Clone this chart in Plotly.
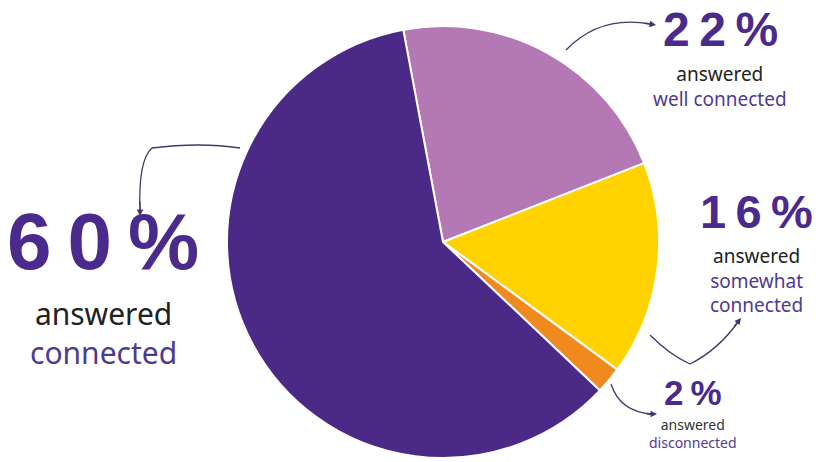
import plotly.graph_objects as go

# Survey responses: how connected respondents feel
categories = ["well connected", "somewhat connected", "disconnected", "connected"]
shares = [22, 16, 2, 60]
colors = ["#B478B4", "#FFD200", "#F08A1E", "#4A2A86"]

W, H = 830, 462
PURPLE = "#4A2A8C"
SUB_PURPLE = "#4F3A92"

fig = go.Figure()

fig.add_trace(go.Pie(
    labels=categories,
    values=shares,
    sort=False,
    direction="clockwise",
    rotation=-10.6,
    marker=dict(colors=colors, line=dict(color="white", width=2)),
    textinfo="none",
    hoverinfo="label+percent",
    showlegend=False,
    domain=dict(x=[227 / W, 659 / W], y=[4 / H, 436 / H]),
))

# Invisible pixel-space axes for callouts
fig.update_xaxes(range=[0, W], visible=False, fixedrange=True)
fig.update_yaxes(range=[H, 0], visible=False, fixedrange=True)

sp = "\u2009"


def pct(v):
    return sp.join(list(f"{v}%"))


callouts = [
    # value, x, number bottom, number size, text size, lines, text top, dark colour
    (shares[3], 103, 287, 80, 30, ["answered", "connected"], 292, "#222222"),
    (shares[0], 720, 57, 48, 19, ["answered", "well connected"], 60, "#222222"),
    (shares[1], 756, 239, 47, 19, ["answered", "somewhat", "connected"], 242, "#222222"),
    (shares[2], 693, 413, 35, 14, ["answered", "disconnected"], 414, "#333333"),
]

for v, x, yb, size, base, lines, ytop, dark in callouts:
    fig.add_annotation(x=x, y=yb, text=f"<b>{pct(v)}</b>", showarrow=False,
                       font=dict(family="Liberation Sans", size=size, color=PURPLE),
                       xanchor="center", yanchor="bottom", borderpad=0)
    parts = []
    for i, t in enumerate(lines):
        col = dark if i == 0 else SUB_PURPLE
        parts.append(f"<span style='color:{col}'>{t}</span>")
    fig.add_annotation(x=x, y=ytop, text="<br>".join(parts), showarrow=False,
                       font=dict(family="Noto Sans", size=base, color=dark),
                       xanchor="center", yanchor="top", align="center", borderpad=0)

# Curved connector lines
line_style = dict(color="#3E3A6E", width=1.3)
paths = [
    "M 240 148 Q 200 142 152 148 Q 138 160 140 212",
    "M 566 50 Q 600 15 650 24",
    "M 650 335 Q 670 355 690 364 Q 718 350 738 322",
    "M 611 384 Q 620 412 652 414",
]
for p in paths:
    fig.add_shape(type="path", path=p, xref="x", yref="y", line=line_style)

# Arrowheads at the ends of the connectors
heads = [(140, 216, 140, 200), (656, 25, 644, 23), (741, 318, 733, 328), (657, 414, 645, 414)]
for x1, y1, x0, y0 in heads:
    fig.add_annotation(x=x1, y=y1, ax=x0, ay=y0, xref="x", yref="y", axref="x", ayref="y",
                       showarrow=True, arrowhead=2, arrowsize=1, arrowwidth=1.3,
                       arrowcolor="#3E3A6E", text="")

fig.update_layout(
    width=W, height=H,
    margin=dict(l=0, r=0, t=0, b=0),
    paper_bgcolor="white", plot_bgcolor="white",
)

fig.write_html("out.html")
